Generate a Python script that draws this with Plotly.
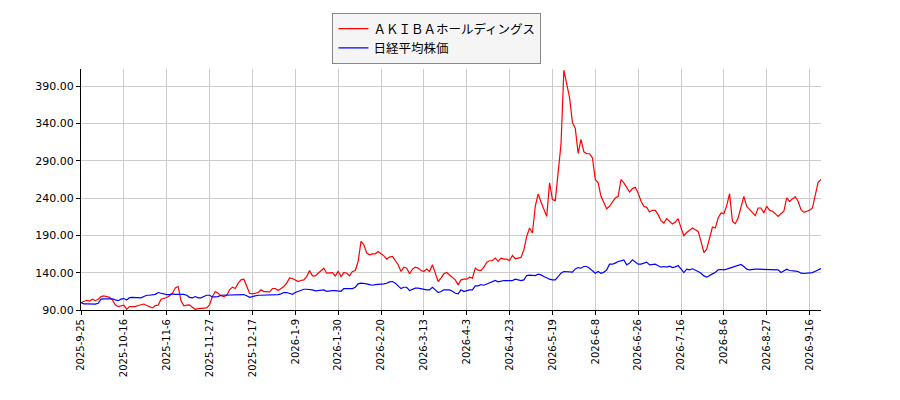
import plotly.graph_objects as go

# tick labels every 15 trading days
tick_labels = [
    "2025-9-25", "2025-10-16", "2025-11-6", "2025-11-27", "2025-12-17",
    "2026-1-9", "2026-1-30", "2026-2-20", "2026-3-13", "2026-4-3",
    "2026-4-23", "2026-5-19", "2026-6-8", "2026-6-26", "2026-7-16",
    "2026-8-6", "2026-8-27", "2026-9-16",
]
tick_step = 15

# AKIBA holdings, rebased to 100
akiba = [
    100, 101, 103, 102, 104.5, 102.5, 104.5, 108, 109, 108,
    107, 103.5, 97, 94.5, 95.5, 96.5, 91, 94.5, 94.5, 94.5,
    96, 97.3, 98, 96, 94.5, 92.8, 96, 96.5, 104.5, 105.3,
    106.7, 109, 112.5, 119.7, 121.5, 102.5, 95.5, 96.5, 97, 93.7,
    91, 91.9, 92, 92.3, 92.8, 97, 108, 114.7, 112.5, 109,
    108, 109.8, 117, 120.6, 118.8, 126, 130.4, 131.3, 121.5, 112.5,
    111.6, 112.5, 113.4, 117, 114.7, 114.7, 114.3, 118.8, 118.8, 116,
    118.8, 121.5, 126, 133, 132.2, 129.5, 128, 129.5, 130.4, 134.8,
    142.9, 135.7, 135.7, 139.3, 142.9, 146, 139.3, 139.3, 140.2, 135.7,
    141.6, 134.8, 140.2, 139.3, 135.7, 141.6, 142.9, 155, 181.9, 177.4,
    166.2, 164, 165.3, 165.3, 168.5, 165.3, 162.6, 158.2, 160.9, 161.8,
    156.4, 150.6, 141.6, 147.4, 146.1, 138.5, 144.8, 147.4, 146.1, 143,
    141.6, 144.8, 141.6, 150.6, 139.4, 128.2, 132.7, 138.5, 140.3, 137.1,
    134, 130.4, 123.7, 130.4, 131.3, 131.3, 134, 132.7, 146.1, 143,
    143, 147.4, 154.2, 156, 156, 159.5, 155.1, 159.5, 158.2, 158.2,
    156.4, 163.1, 158.7, 159.5, 160.5, 170.7, 188.7, 199.9, 193.2, 229,
    245.6, 234.8, 224, 215.5, 260.4, 238, 236.6, 271.6, 311.9, 411.4,
    394.8, 374.7, 341.1, 333.4, 300, 318.6, 302, 299.4, 299.4, 294,
    264.8, 260.4, 242.4, 234.8, 225.8, 229, 234.8, 240.2, 242.4, 264.8,
    260.4, 253.6, 248.2, 252.7, 254.5, 246.9, 235.7, 229, 227.6, 221.4,
    223.6, 223.6, 217.8, 209.7, 206.6, 212.4, 208.8, 205.2, 207.9, 212.4,
    200, 189.5, 194, 196.7, 199.8, 197.6, 195.4, 181.9, 167, 171.6,
    188.6, 201.2, 199.8, 213.3, 220, 219.1, 229.9, 246, 208.8, 205.7,
    213.3, 228.1, 242.4, 229, 224.5, 220.9, 216.4, 226.7, 226.7, 220,
    229, 223.6, 222.3, 219.1, 215.5, 219.1, 222.3, 240.2, 235.7, 238.9,
    241.5, 235.7, 224.5, 220.9, 222.7, 223.6, 226.7, 242.4, 261.3, 264.9,
]

# Nikkei 225, rebased to 100
nikkei = [
    100, 98.2, 98.2, 98.2, 97.3, 98, 99, 104.5, 105, 105,
    105, 105, 103.5, 102.5, 104.5, 105.3, 103.5, 106.7, 107, 107,
    107, 106.2, 108, 109.8, 109.8, 110.7, 111, 113.4, 112.5, 110.7,
    110.7, 110.7, 111.6, 111, 111, 111, 111, 109.8, 107, 106.2,
    108, 106.2, 106.2, 108, 109.8, 109.8, 107.5, 107.5, 108, 109.8,
    109.8, 109.8, 109.8, 109.8, 109.8, 109.8, 109.8, 110.7, 109, 107,
    108, 109, 109.8, 109.8, 109.8, 109.8, 109.8, 110.7, 109.8, 110.7,
    111.6, 113.4, 113.4, 112.5, 111, 113.4, 115, 117, 117.8, 117.8,
    117.8, 117, 115.6, 116, 117, 117, 115.1, 116, 116, 116,
    116, 115.1, 118.7, 118.7, 118.7, 118.7, 120.5, 125, 125.9, 125.9,
    125, 124.1, 123.2, 124.1, 124.1, 124.1, 125, 125.9, 127.7, 128.2,
    126, 122.3, 118.7, 120.5, 120.5, 116, 117.9, 119.2, 119.2, 118.3,
    117, 117, 117, 120.5, 117, 113.4, 114.7, 117, 117, 117,
    115.2, 112.5, 111.6, 117, 114.7, 116, 117, 117, 122.3, 122.3,
    124.1, 123.2, 125, 126, 128.2, 129.5, 127.7, 129, 129.5, 129.5,
    129, 129.5, 131.3, 130.4, 129.5, 130.4, 136.2, 136.7, 136.7, 136.2,
    138, 137.1, 135, 132.6, 131.3, 130.4, 130.4, 134.8, 139.3, 141.6,
    141.6, 141.6, 140.7, 145.1, 146.9, 146, 148.3, 148.3, 146, 142.5,
    139.3, 141.6, 139.3, 140.7, 143.8, 151.4, 151.4, 152.8, 155, 155.9,
    157.2, 150.5, 152.8, 157.2, 154.1, 151.4, 151.4, 152.3, 154.1, 150.5,
    151.4, 151.4, 149.2, 147.4, 148.3, 147.4, 148.8, 146.9, 147.8, 149.6,
    145, 140.2, 144.7, 143.8, 145.2, 143.8, 141.6, 139.3, 135.7, 134,
    136.6, 138.4, 140.2, 143.8, 144.3, 143.8, 144.7, 146, 147.4, 149.2,
    150.1, 151, 148.3, 144.7, 143.8, 144.7, 144.7, 144.7, 144.7, 144.7,
    144.7, 144.7, 144.7, 144.7, 143.8, 140.2, 142.5, 144.7, 142.9, 142,
    142, 141.6, 139.3, 138.9, 139.3, 139.3, 140.2, 142, 143.8, 145.6,
]

x = list(range(len(akiba)))

fig = go.Figure()
fig.add_trace(go.Scatter(
    x=x, y=akiba, mode="lines", name="ＡＫＩＢＡホールディングス",
    line=dict(color="#ff0000", width=1.2),
))
fig.add_trace(go.Scatter(
    x=x, y=nikkei, mode="lines", name="日経平均株価",
    line=dict(color="#0000ff", width=1.2),
))

# the page body adds an 8px offset, so margins are shifted to compensate
fig.update_layout(
    width=900,
    height=400,
    margin=dict(l=73, r=87, t=61, b=98, autoexpand=False),
    plot_bgcolor="white",
    paper_bgcolor="white",
    font=dict(family="DejaVu Sans", size=11, color="#000"),
    showlegend=True,
    legend=dict(
        x=0.481, y=1.232, xanchor="center", yanchor="top",
        bgcolor="#f5f5f5", bordercolor="#888", borderwidth=1,
        font=dict(family="Noto Sans CJK JP", size=12.5, color="#000"),
        itemwidth=30,
        tracegroupgap=0,
    ),
    xaxis=dict(
        range=[0, len(akiba) - 1],
        tickvals=[i * tick_step for i in range(len(tick_labels))],
        ticktext=tick_labels,
        tickangle=-90,
        tickfont=dict(size=10),
        showgrid=True, gridcolor="#cccccc", gridwidth=1,
        showline=True, linecolor="#000", linewidth=1,
        ticks="outside", ticklen=4, tickcolor="#000",
        zeroline=False,
    ),
    yaxis=dict(
        range=[90, 413],
        tickvals=[90, 140, 190, 240, 290, 340, 390],
        tickformat=".2f",
        showgrid=True, gridcolor="#cccccc", gridwidth=1,
        showline=True, linecolor="#000", linewidth=1,
        ticks="outside", ticklen=4, tickcolor="#000",
        zeroline=False,
    ),
)

fig.write_html("out.html")
